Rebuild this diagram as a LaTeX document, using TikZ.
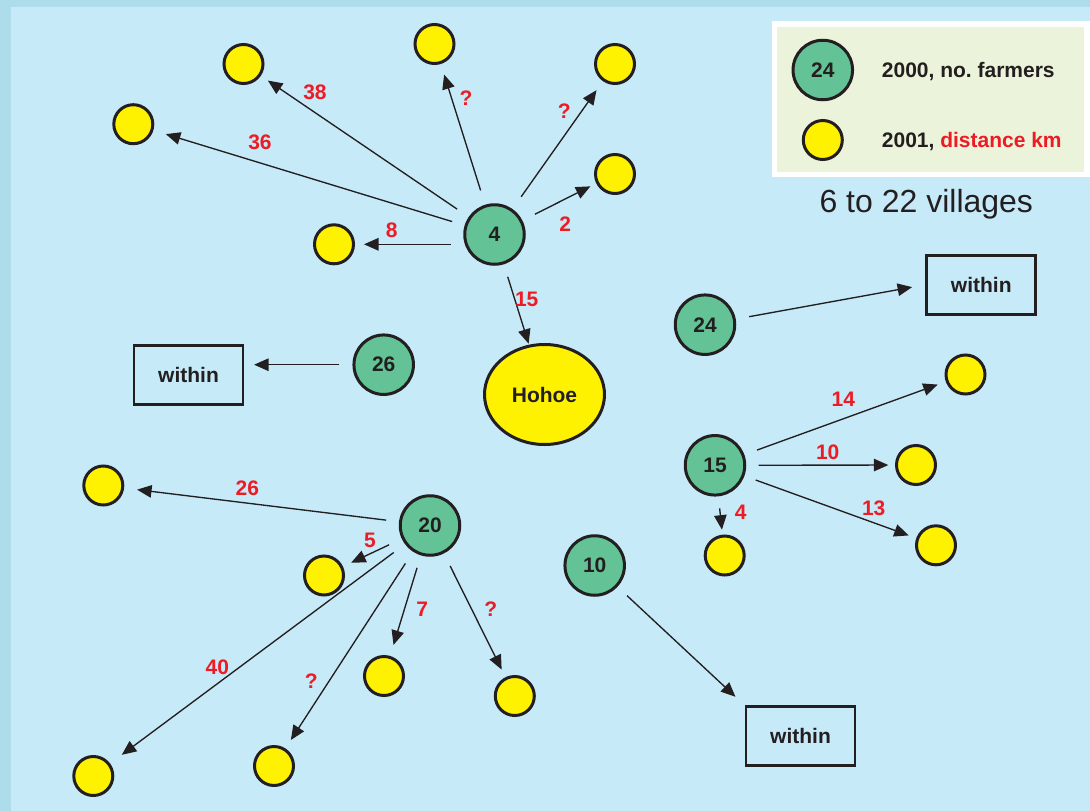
\documentclass[tikz,border=0pt]{standalone}
\usepackage{fontspec}
\setmainfont{Liberation Sans}
\usetikzlibrary{arrows.meta,shapes.geometric}
\definecolor{bgout}{HTML}{ADDDEA}
\definecolor{bgin}{HTML}{C7EAF9}
\definecolor{grn}{HTML}{63C396}
\definecolor{ylw}{HTML}{FFF200}
\definecolor{ink}{HTML}{231F20}
\definecolor{rd}{HTML}{ED1C24}
\definecolor{beige}{HTML}{EBF3DA}
\frenchspacing
\begin{document}
\begin{tikzpicture}[x=1pt,y=-1pt,
  bfont/.style={font=\fontsize{21}{25}\selectfont\bfseries},
  gnode/.style={circle, draw=ink, fill=grn, line width=3pt, minimum size=59.5pt, inner sep=0pt, text=ink, bfont},
  ynode/.style={circle, draw=ink, fill=ylw, line width=3pt, minimum size=39pt, inner sep=0pt},
  wbox/.style={rectangle, draw=ink, line width=2.8pt, minimum width=109pt, minimum height=59pt, inner sep=0pt, text=ink, bfont},
  arr/.style={draw=ink, line width=1.35pt, -{Triangle[length=14.5pt,width=12.5pt]}},
  lab/.style={text=rd, bfont, inner sep=0pt},
  ltext/.style={text=ink, bfont, inner sep=0pt, anchor=base west},
]
\useasboundingbox (0,0) rectangle (1090,811);
\fill[bgout] (0,0) rectangle (1090,811);
\fill[bgin] (11,7) rectangle (1090,811);

% legend
\fill[white] (771.7,21) rectangle (1090,176.7);
\fill[beige] (776.7,26.7) rectangle (1084.3,171.7);
\node[gnode] (lg) at (822.8,70) {24};
\node[ynode] (ly) at (822.8,140) {};
\node[ltext] (lt1) at (881.7,77.3) {2000, no. farmers};
\node[ltext] (lt2) at (881.7,147.3) {2001, \textcolor{rd}{distance km}};
\node[text=ink, inner sep=0pt, anchor=base, font=\fontsize{32}{38}\selectfont] (vil) at (926.3,212.7) {6 to 22 villages};

% green nodes
\node[gnode] (n4) at (494.5,234.5) {4};
\node[gnode] (n26) at (383.7,364.7) {26};
\node[gnode] (n24) at (705,324.7) {24};
\node[gnode] (n15) at (715,465.3) {15};
\node[gnode] (n20) at (430,525.5) {20};
\node[gnode] (n10) at (594.7,565.5) {10};
\node[ellipse, draw=ink, fill=ylw, line width=3pt, minimum width=120pt, minimum height=100pt, inner sep=0pt, text=ink, bfont] (hoh) at (544.5,394.5) {Hohoe};

% yellow nodes
\node[ynode] (y1) at (243.5,64) {};
\node[ynode] (y2) at (133.3,124.2) {};
\node[ynode] (y3) at (434.5,44) {};
\node[ynode] (y4) at (615,64) {};
\node[ynode] (y5) at (615,174) {};
\node[ynode] (y6) at (334,244.3) {};
\node[ynode] (y7) at (965.5,374.5) {};
\node[ynode] (y8) at (916,465) {};
\node[ynode] (y9) at (936,545.3) {};
\node[ynode] (y10) at (724.7,555.5) {};
\node[ynode] (y11) at (103.3,485.5) {};
\node[ynode] (y12) at (324,575.5) {};
\node[ynode] (y13) at (384,676) {};
\node[ynode] (y14) at (514.8,696) {};
\node[ynode] (y15) at (93.3,776) {};
\node[ynode] (y16) at (274,766) {};

% boxes
\node[wbox] (wb1) at (188.5,375) {within};
\node[wbox] (wb2) at (981.3,284.7) {within};
\node[wbox] (wb3) at (800.5,736.2) {within};

% arrows from 4
\draw[arr, shorten <=14pt, shorten >=8.5pt] (n4) -- (y1);
\draw[arr, shorten <=13pt, shorten >=13pt] (n4) -- (y2);
\draw[arr, shorten <=15pt, shorten >=11pt] (n4) -- (y3);
\draw[arr, shorten <=15pt, shorten >=11pt] (n4) -- (y4);
\draw[arr, shorten <=14pt, shorten >=6.5pt] (n4) -- (y5);
\draw[arr, shorten <=12.5pt, shorten >=9pt] (y6 -| n4.west) -- (y6.east);
\draw[arr, shorten <=13pt, shorten >=1pt] (n4) -- (hoh);
% 26, 24, 10
\draw[arr, shorten <=13pt, shorten >=9.7pt] (n26) -- (n26 -| wb1.east);
\draw[arr, shorten <=13.7pt, shorten >=13.5pt] (n24) -- (wb2.west);
\draw[arr, shorten <=13pt, shorten >=12.5pt] (n10) -- (wb3.north west);
% arrows from 15
\draw[arr, shorten <=13.5pt, shorten >=8.5pt] (n15) -- (y7);
\draw[arr, shorten <=12.3pt, shorten >=6.7pt] (n15) -- (y8);
\draw[arr, shorten <=12pt, shorten >=8pt] (n15) -- (y9);
\draw[arr, shorten <=12pt, shorten >=5pt] (n15) -- (y10);
% arrows from 20
\draw[arr, shorten <=13pt, shorten >=13pt] (n20) -- (y11);
\draw[arr, shorten <=14pt, shorten >=9pt] (n20) -- (y12);
\draw[arr, shorten <=14pt, shorten >=14.5pt] (n20) -- (y15);
\draw[arr, shorten <=14pt, shorten >=10pt] (n20) -- (y16);
\draw[arr, shorten <=13pt, shorten >=11.5pt] (n20) -- (y13);
\draw[arr, shorten <=14pt, shorten >=8.5pt] (n20) -- (y14);

% distance labels
\node[lab] (l38) at (315,92.7) {38};
\node[lab] (l36) at (260,142.7) {36};
\node[lab] (lq1) at (466,98.3) {?};
\node[lab] (lq2) at (564.3,111) {?};
\node[lab] (l2) at (565.3,224.3) {2};
\node[lab] (l8) at (391.7,230.7) {8};
\node[lab] (l15) at (526.7,299) {15};
\node[lab] (l14) at (843.3,399.3) {14};
\node[lab] (l10) at (827.7,452.7) {10};
\node[lab] (l13) at (873.7,508.3) {13};
\node[lab] (l4) at (740.7,512.3) {4};
\node[lab] (l26) at (247.3,488.3) {26};
\node[lab] (l5) at (370,540) {5};
\node[lab] (l7) at (422.3,609.3) {7};
\node[lab] (lq3) at (490.7,608.7) {?};
\node[lab] (l40) at (217.3,667.3) {40};
\node[lab] (lq4) at (311.3,680.7) {?};
\end{tikzpicture}
\end{document}
